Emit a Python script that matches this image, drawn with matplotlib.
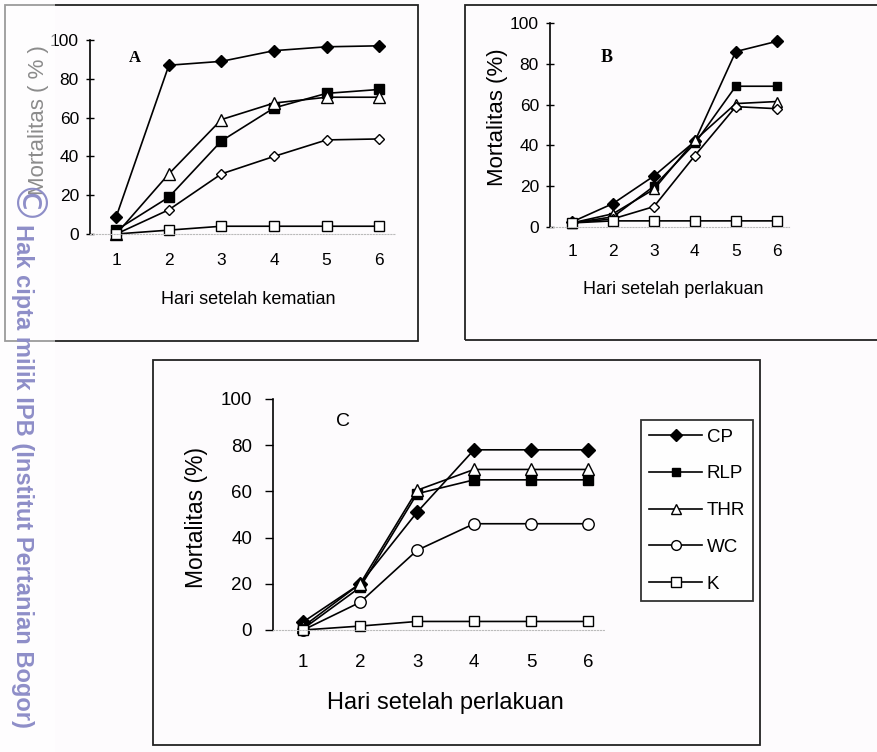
import matplotlib
matplotlib.use("Agg")
import matplotlib.pyplot as plt
from matplotlib.patches import Rectangle

W, H = 878, 752

hari = [1, 2, 3, 4, 5, 6]
seri = ["CP", "RLP", "THR", "WC", "K"]

# panel A - hari setelah kematian
a_cp = [9, 87, 89, 94.5, 96.5, 97]
a_rlp = [2, 19, 48, 65, 72.5, 74.5]
a_thr = [0, 31, 59, 67.5, 70.5, 70.5]
a_wc = [0, 12.5, 31, 40, 48.5, 49]
a_k = [0, 2, 4, 4, 4, 4]

# panel B - hari setelah perlakuan
b_cp = [2.5, 11.5, 25, 42, 86, 91]
b_rlp = [2, 5, 20, 41, 69, 69]
b_thr = [2, 6.5, 18.5, 42.5, 60.5, 61.5]
b_wc = [2, 4, 10, 35, 59, 58]
b_k = [2, 3, 3, 3, 3, 3]

# panel C
c_cp = [3.5, 20, 51, 78, 78, 78]
c_rlp = [0.5, 18.5, 59, 65, 65, 65]
c_thr = [1.5, 20, 60.5, 69.5, 69.5, 69.5]
c_wc = [0, 12, 34.5, 46, 46, 46]
c_k = [0, 1.7, 3.7, 3.7, 3.7, 3.7]

yticks = [0, 20, 40, 60, 80, 100]

narrow = ["Liberation Sans Narrow", "Liberation Sans", "DejaVu Sans"]
sans = ["Liberation Sans", "DejaVu Sans"]
serif = ["Liberation Serif", "DejaVu Serif"]


def px(x0, y0, x1, y1):
    return [x0 / W, 1 - y1 / H, (x1 - x0) / W, (y1 - y0) / H]


def fx(x):
    return x / W


def fy(y):
    return 1 - y / H


fig = plt.figure(figsize=(W / 100, H / 100), dpi=100)
fig.patch.set_facecolor("#fdfbfd")

# bingkai panel
for (x0, y0, x1, y1) in [(5, 5, 418, 341), (465, 5, 890, 340), (153, 360, 760, 745)]:
    fig.add_artist(Rectangle((fx(x0), fy(y1)), (x1 - x0) / W, (y1 - y0) / H,
                             transform=fig.transFigure, fill=False,
                             edgecolor="#222222", linewidth=1.3))


def gaya(ms_scale=1.0, wc_marker="D"):
    s = ms_scale
    return [
        dict(marker="D", ms=6.5 * s, mfc="black", mec="black"),
        dict(marker="s", ms=6.5 * s, mfc="black", mec="black"),
        dict(marker="^", ms=8 * s, mfc="white", mec="black"),
        dict(marker=wc_marker, ms=(5.5 if wc_marker == "D" else 7.5) * s, mfc="white", mec="black"),
        dict(marker="s", ms=7 * s, mfc="white", mec="black"),
    ]


def panel(rect, xlim, data, styles, tick_font, tick_size, xpad, ypad, tickdir):
    ax = fig.add_axes(px(*rect))
    lines = []
    for vals, st, name in zip(data, styles, seri):
        ln, = ax.plot(hari, vals, color="black", lw=1.2, clip_on=False,
                      mew=1.0, label=name, **st)
        lines.append(ln)
    ax.set_xlim(*xlim)
    ax.set_ylim(0, 100)
    ax.set_yticks(yticks)
    ax.set_xticks(hari)
    for s in ["top", "right"]:
        ax.spines[s].set_visible(False)
    ax.spines["bottom"].set_color("#bbbbbb")
    ax.spines["bottom"].set_linestyle(":")
    ax.spines["bottom"].set_linewidth(0.8)
    ax.spines["left"].set_linewidth(1.2)
    ax.tick_params(axis="x", length=0, pad=xpad)
    ax.tick_params(axis="y", direction=tickdir, length=6, width=1.0, pad=ypad)
    for lab in ax.get_xticklabels() + ax.get_yticklabels():
        lab.set_family(tick_font)
        lab.set_fontsize(tick_size)
    ax.patch.set_alpha(0)
    return ax, lines


axA, _ = panel((90, 40, 395, 234), (0.5, 6.3),
               [a_cp, a_rlp, a_thr, a_wc, a_k], gaya(), narrow, 12.5, 14, 5, "inout")
axB, _ = panel((550, 23, 789, 227), (0.46, 6.3),
               [b_cp, b_rlp, b_thr, b_wc, b_k], gaya(0.95), narrow, 12.5, 12, 5, "inout")
axC, linesC = panel((273, 399, 605, 630), (0.47, 6.3),
                    [c_cp, c_rlp, c_thr, c_wc, c_k], gaya(1.1, "o"), sans, 13.5, 17, 9, "out")

# huruf panel
fig.text(fx(135), fy(58), "A", family=serif, weight="bold", fontsize=12, ha="center", va="center")
fig.text(fx(607), fy(57), "B", family=serif, weight="bold", fontsize=13, ha="center", va="center")
fig.text(fx(343), fy(422), "C", family=sans, fontsize=14, ha="center", va="center")

# label sumbu
fig.text(fx(39), fy(120), "Mortalitas ( % )", family=sans, fontsize=16, rotation=90,
         ha="center", va="center")
fig.text(fx(248), fy(300), "Hari setelah kematian", family=narrow, fontsize=13,
         ha="center", va="center")
fig.text(fx(497), fy(117), "Mortalitas (%)", family=sans, fontsize=16, rotation=90,
         ha="center", va="center")
fig.text(fx(673), fy(289), "Hari setelah perlakuan", family=narrow, fontsize=13,
         ha="center", va="center")
fig.text(fx(197), fy(517), "Mortalitas (%)", family=sans, fontsize=16.5, rotation=90,
         ha="center", va="center")
fig.text(fx(445), fy(703), "Hari setelah perlakuan", family=sans, fontsize=17,
         ha="center", va="center")

# legenda panel C
leg = fig.legend(linesC, seri, loc="upper left", bbox_to_anchor=(fx(641), fy(420)),
                 bbox_transform=fig.transFigure, frameon=True, fancybox=False,
                 edgecolor="black", handlelength=2.8, handletextpad=0.25,
                 labelspacing=1.05, borderpad=0.45, borderaxespad=0, markerscale=0.85,
                 prop={"family": sans, "size": 13.5})
leg.get_frame().set_linewidth(1.3)

# watermark IPB
fig.add_artist(Rectangle((0, 0), 55 / W, 1, transform=fig.transFigure,
                         facecolor="white", alpha=0.55, edgecolor="none", zorder=5))
fig.text(fx(22), fy(207), "\u00a9", color="#8e8ec8", fontsize=30, rotation=-90,
         ha="center", va="center", zorder=6, family=["DejaVu Sans"])
fig.text(fx(22), fy(224), "Hak cipta milik IPB (Institut Pertanian Bogor)", color="#8e8ec8",
         fontsize=17, weight="bold", rotation=-90, ha="center", va="top", zorder=6,
         family=sans)

fig.savefig("out.png", dpi=100)
